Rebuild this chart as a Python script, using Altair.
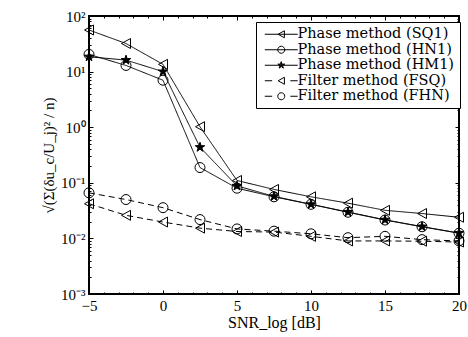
import altair as alt
import pandas as pd

snr = [-5, -2.5, 0, 2.5, 5, 7.5, 10, 12.5, 15, 17.5, 20]
sq1 = [56, 32, 13.5, 1.02, 0.11, 0.076, 0.056, 0.043, 0.032, 0.028, 0.024]
hn1 = [20.4, 12.9, 7.0, 0.188, 0.080, 0.056, 0.041, 0.0295, 0.0214, 0.0162, 0.0124]
hm1 = [18.5, 16.1, 10.0, 0.436, 0.088, 0.057, 0.041, 0.0298, 0.0216, 0.0163, 0.0125]
fsq = [0.042, 0.026, 0.0197, 0.0153, 0.0133, 0.013, 0.0109, 0.0090, 0.0090, 0.0089, 0.0086]
fhn = [0.066, 0.050, 0.0357, 0.0218, 0.0148, 0.0135, 0.0121, 0.0103, 0.0109, 0.0095, 0.0090]

series_names = ["Phase method (SQ1)", "Phase method (HN1)", "Phase method (HM1)",
                "Filter method (FSQ)", "Filter method (FHN)"]
series_values = [sq1, hn1, hm1, fsq, fhn]

x_major = [-5, 0, 5, 10, 15, 20]
x_minor = [v for v in range(-5, 21) if v % 5 != 0]
y_major = [1e-3, 1e-2, 1e-1, 1e0, 1e1, 1e2]
y_exponents = [-3, -2, -1, 0, 1, 2]
y_sup = ["⁻³", "⁻²", "⁻¹", "⁰", "¹", "²"]
y_minor = [m * 10.0 ** e for e in range(-3, 2) for m in range(2, 10)]

y_title = "√(Σ(δu_c/U_j)² / n)"
x_title = "SNR_log [dB]"

rows = []
for name, vals in zip(series_names, series_values):
    for xv, yv in zip(snr, vals):
        rows.append({"snr": xv, "val": yv, "series": name})
df = pd.DataFrame(rows)

W, H = 370, 278
SERIF = "Liberation Serif"

TRI = "M-0.9,0L0.9,-1L0.9,1Z"
CIR = "M1,0A1,1,0,1,1,-1,0A1,1,0,1,1,1,0Z"
STAR = ("M0,-1L0.225,-0.309L0.951,-0.309L0.363,0.118L0.588,0.809L0,0.382"
        "L-0.588,0.809L-0.363,0.118L-0.951,-0.309L-0.225,-0.309Z")
# star drawn with strokes only (outline plus spokes) so it reads as solid
STAR_DARK = STAR + ("M0,0L0,-1M0,0L0.951,-0.309M0,0L0.588,0.809M0,0L-0.588,0.809"
                    "M0,0L-0.951,-0.309M0,0L0.3,0M0,0L-0.3,0M0,0L0,0.3")
marker_paths = [TRI, CIR, STAR, TRI, CIR]
marker_fill = ["transparent", "transparent", "black", "transparent", "transparent"]
marker_size = [100, 100, 60, 100, 100]

SOLID = "M-4.7,0L4.7,0"
DASH = "M-4.7,0L-2.6,0M2.6,0L4.7,0"
legend_paths = [SOLID + TRI, SOLID + CIR, SOLID + STAR_DARK, DASH + TRI, DASH + CIR]
dash_range = [[1, 0], [1, 0], [1, 0], [6, 4], [6, 4]]

xscale = alt.Scale(domain=[-5, 20], nice=False, zero=False)
yscale = alt.Scale(type="log", domain=[1e-3, 1e2], nice=False)

k = "round(log(datum.value)/LN10)"
label_expr = "'10' + (" + " : ".join(
    f"{k} == {e} ? '{s}'" for e, s in zip(y_exponents, y_sup)) + " : '')"

main_x_axis = alt.Axis(values=x_major, format="d", orient="bottom", tickSize=0,
                       domain=False, grid=False, labelFont=SERIF, labelFontSize=15,
                       labelColor="black", labelPadding=4, labelFlush=False,
                       title=x_title, titleFont=SERIF, titleFontSize=16,
                       titleFontWeight="normal", titleColor="black", titlePadding=1)
main_y_axis = alt.Axis(values=y_major, orient="left", tickSize=0, domain=False,
                       grid=False, labelExpr=label_expr, labelFont=SERIF,
                       labelFontSize=15, labelColor="black", labelPadding=4,
                       title=y_title, titleFont=SERIF,
                       titleFontSize=15, titleFontWeight="normal", titleAngle=270,
                       titleColor="black", titlePadding=4)

lines = alt.Chart(df).mark_line(color="black", strokeWidth=1).encode(
    x=alt.X("snr:Q", scale=xscale, axis=main_x_axis),
    y=alt.Y("val:Q", scale=yscale, axis=main_y_axis),
    detail="series:N",
    strokeDash=alt.StrokeDash("series:N", scale=alt.Scale(domain=series_names, range=dash_range),
                              legend=None),
)

points = alt.Chart(df).mark_point(color="black", strokeWidth=1, opacity=1).encode(
    x=alt.X("snr:Q", scale=xscale, axis=None),
    y=alt.Y("val:Q", scale=yscale, axis=None),
    shape=alt.Shape("series:N", scale=alt.Scale(domain=series_names, range=marker_paths), legend=None),
    fill=alt.Fill("series:N", scale=alt.Scale(domain=series_names, range=marker_fill), legend=None),
    size=alt.Size("series:N", scale=alt.Scale(domain=series_names, range=marker_size), legend=None),
)

legend = alt.Legend(title=None, orient="none", legendX=167, legendY=6,
                    strokeColor="black", fillColor="white", padding=5,
                    labelFont="DejaVu Serif", labelFontSize=14.5, labelColor="black",
                    symbolSize=49, symbolStrokeColor="black", symbolStrokeWidth=1,
                    symbolOpacity=1, symbolFillColor="transparent",
                    symbolOffset=13, labelOffset=9, rowPadding=0.5, labelLimit=300)

legend_layer = alt.Chart(df).transform_filter("false").mark_point(
    color="black", strokeWidth=1, opacity=1, filled=False).encode(
    x=alt.X("snr:Q", scale=xscale, axis=None),
    y=alt.Y("val:Q", scale=yscale, axis=None),
    shape=alt.Shape("series:N", scale=alt.Scale(domain=series_names, range=legend_paths), legend=legend),
)


def tick_layer(xvals, yvals, size, xorient, yorient):
    xa = alt.Axis(values=xvals, orient=xorient, offset=-H, labels=False, domain=False,
                  grid=False, tickSize=size, tickColor="black", tickWidth=1, title=None)
    ya = alt.Axis(values=yvals, orient=yorient, offset=-W, labels=False, domain=False,
                  grid=False, tickSize=size, tickColor="black", tickWidth=1, title=None)
    return alt.Chart(df).transform_filter("false").mark_point(opacity=0).encode(
        x=alt.X("snr:Q", scale=xscale, axis=xa),
        y=alt.Y("val:Q", scale=yscale, axis=ya),
    )


ticks = [
    tick_layer(x_major, y_major, 4, "top", "right"),
    tick_layer(x_minor, y_minor, 2, "top", "right"),
    tick_layer(x_major, y_major, 4, "bottom", "left"),
    tick_layer(x_minor, y_minor, 2, "bottom", "left"),
]

chart = alt.layer(lines, points, *ticks, legend_layer).resolve_scale(
    shape="independent", fill="independent", size="independent"
).resolve_axis(x="independent", y="independent").properties(
    width=W, height=H,
    autosize=alt.AutoSizeParams(type="none"),
    padding={"left": 89, "top": 16, "right": 9, "bottom": 43},
).configure_view(stroke="black", strokeWidth=2)

chart.save("out.html", embed_options={"renderer": "svg", "actions": False})
